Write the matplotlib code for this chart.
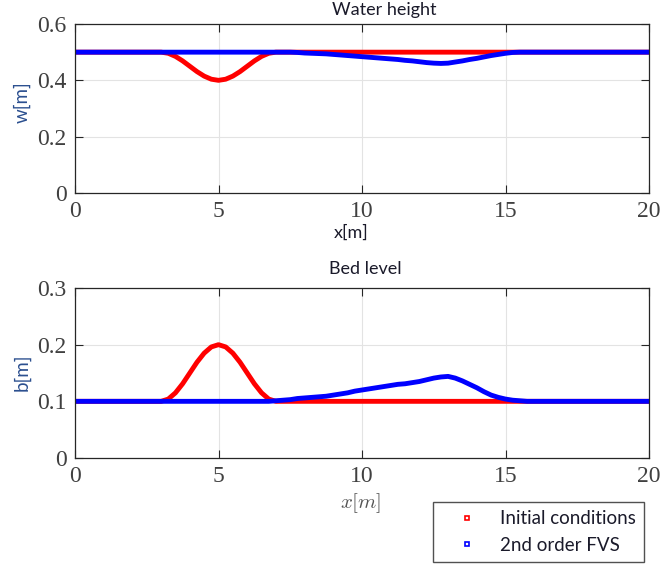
import numpy as np
import matplotlib
matplotlib.use('Agg')
from matplotlib import pyplot as plt
from matplotlib.lines import Line2D

# valores, x cada 0.25 m
x = np.arange(0, 20.001, 0.25)

w_init = ([0.5] * 12 +
          [0.500, 0.496, 0.485, 0.469, 0.450, 0.431, 0.415, 0.404, 0.400,
           0.404, 0.415, 0.431, 0.450, 0.469, 0.485, 0.496, 0.500] +
          [0.5] * 52)
b_init = ([0.1] * 12 +
          [0.100, 0.104, 0.115, 0.131, 0.150, 0.169, 0.185, 0.196, 0.200,
           0.196, 0.185, 0.169, 0.150, 0.131, 0.115, 0.104, 0.100] +
          [0.1] * 52)

w_fvs = ([0.5] * 31 +
         [0.499, 0.497, 0.496, 0.495, 0.494, 0.492, 0.490, 0.488, 0.486, 0.484,
          0.482, 0.480, 0.478, 0.476, 0.474, 0.471, 0.469, 0.466, 0.463, 0.461,
          0.460, 0.461, 0.465, 0.469, 0.474, 0.478, 0.483, 0.488, 0.492, 0.496,
          0.499] +
         [0.5] * 19)
b_fvs = ([0.1] * 28 +
         [0.101, 0.102, 0.103, 0.105, 0.106, 0.107, 0.108, 0.109, 0.111, 0.113,
          0.115, 0.118, 0.120, 0.122, 0.124, 0.126, 0.128, 0.130, 0.131, 0.133,
          0.135, 0.138, 0.141, 0.143, 0.144, 0.141, 0.136, 0.130, 0.124, 0.117,
          0.111, 0.107, 0.104, 0.102, 0.101] +
         [0.1] * 18)

plt.rcParams['mathtext.fontset'] = 'cm'
W, H = 661, 567
fig = plt.figure(figsize=(6.61, 5.67), dpi=100)

ax1 = fig.add_axes([75 / W, 1 - 193 / H, 574 / W, 169 / H])
ax2 = fig.add_axes([75 / W, 1 - 458 / H, 574 / W, 170 / H])

for ax, yi, yf, ymax, yt in [(ax1, w_init, w_fvs, 0.6, [0, 0.2, 0.4, 0.6]),
                             (ax2, b_init, b_fvs, 0.3, [0, 0.1, 0.2, 0.3])]:
    ax.plot(x, yi, color='red', lw=3.5, solid_capstyle='butt')
    ax.plot(x, yf, color='blue', lw=3.5, solid_capstyle='butt')
    ax.set_xlim(0, 20)
    ax.set_ylim(0, ymax)
    ax.set_xticks([0, 5, 10, 15, 20])
    ax.set_yticks(yt)
    ax.set_yticklabels([('%g' % v) for v in yt])
    ax.grid(True, color='#e3e3e3', lw=0.8)
    ax.set_axisbelow(True)
    ax.tick_params(direction='in', length=6, width=0.8, top=True, right=True,
                   colors='#262626', labelcolor='#404040', labelsize=17, pad=6)
    for lbl in ax.get_xticklabels() + ax.get_yticklabels():
        lbl.set_fontfamily('Liberation Serif')
    for s in ax.spines.values():
        s.set_color('#262626')
        s.set_linewidth(0.9)

sans = 'Lato'
fig.text(384 / W, 1 - 10 / H, 'Water height', ha='center', va='center',
         family=sans, fontsize=13, color='#1a1a2a')
fig.text(365 / W, 1 - 269 / H, 'Bed level', ha='center', va='center',
         family=sans, fontsize=13, color='#1a1a2a')
fig.text(351 / W, 1 - 233 / H, 'x[m]', ha='center', va='center',
         family=sans, fontsize=13, color='#1a1a2a')
fig.text(22 / W, 1 - 102 / H, 'w[m]', ha='center', va='center', rotation=90,
         family=sans, fontsize=13.5, color='#2b4f8f')
fig.text(22 / W, 1 - 372 / H, 'b[m]', ha='center', va='center', rotation=90,
         family=sans, fontsize=13.5, color='#2b4f8f')
fig.text(361 / W, 1 - 503 / H, r'$x[m]$', ha='center', va='center',
         fontsize=15, color='#555555')

handles = [Line2D([], [], ls='none', marker='s', ms=3, mfc='none', mec='red', mew=1.2),
           Line2D([], [], ls='none', marker='s', ms=3, mfc='none', mec='blue', mew=1.2)]
leg = fig.legend(handles, ['Initial conditions', '2nd order FVS'],
                 loc='upper left', bbox_to_anchor=(433 / W, 1 - 502 / H),
                 frameon=True, fancybox=False, prop={'family': sans, 'size': 13.5},
                 handlelength=2.7, handletextpad=0.4, borderpad=0.45,
                 labelspacing=0.5, borderaxespad=0)
leg.get_frame().set_edgecolor('#262626')
leg.get_frame().set_linewidth(1.0)
for t in leg.get_texts():
    t.set_color('#1a1a2a')

fig.savefig('out.png', dpi=100)
